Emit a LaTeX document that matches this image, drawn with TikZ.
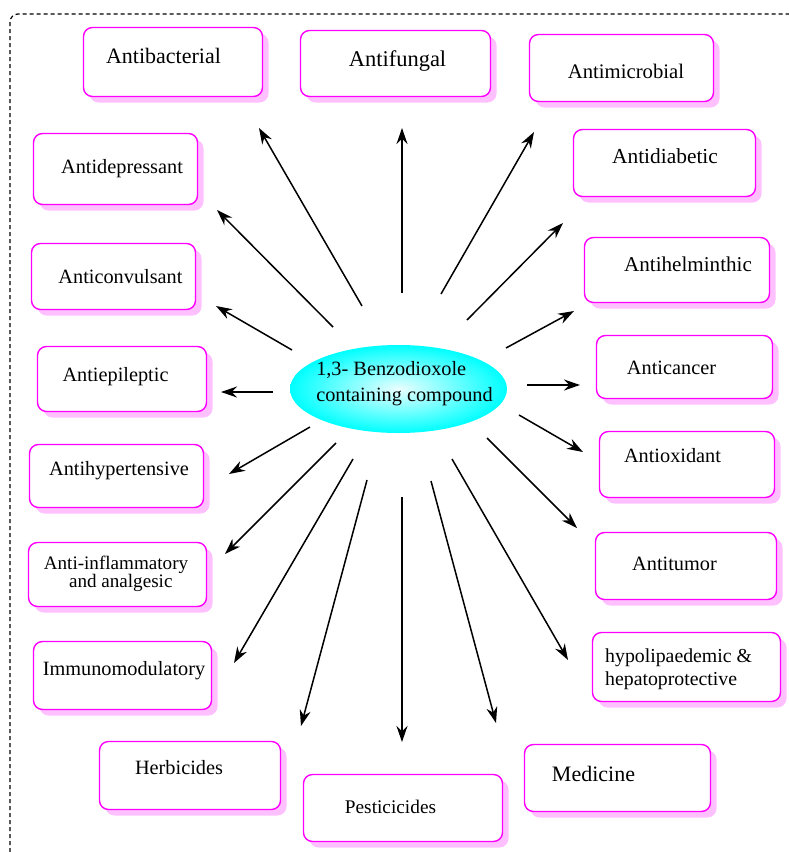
\documentclass[tikz,border=0pt]{standalone}
\usepackage{fontspec}
\setmainfont{Liberation Serif}
\usetikzlibrary{shapes.geometric,shadows,arrows.meta}
\definecolor{boxline}{RGB}{255,0,255}
\definecolor{boxshade}{RGB}{255,192,255}
\definecolor{eggedge}{RGB}{0,255,255}
\definecolor{eggmid}{RGB}{235,255,255}

\begin{document}
\begin{tikzpicture}[x=1pt,y=-1pt,
box/.style={draw=boxline,line width=1.4pt,rounded corners=9pt,fill=white,inner sep=0pt,
  drop shadow={shadow xshift=6pt,shadow yshift=-6pt,fill=boxshade,opacity=1}},
txt/.style={font=\fontsize{#1}{#1}\selectfont,inner sep=0pt,anchor=base},
txt/.default=20.3,
core/.style={ellipse,minimum width=217pt,minimum height=88pt,inner sep=0pt,
  shading=radial,inner color=eggmid,outer color=eggedge},
ray/.style={line width=1.5pt,-{Stealth[length=16pt,width=11pt]}},
frame/.style={line width=1.2pt,dash pattern=on 4pt off 3pt,rounded corners=8pt}
]
\useasboundingbox (0,0) rectangle (789,852);
\draw[frame] (10,880) -- (10,14) -- (820,14);

% centre
\node[core] (core) at (398.5,389) {};
\node[align=left,inner sep=0pt,font=\fontsize{20.3}{26}\selectfont] (coreT) at (404.5,383.3)
  {1,3- Benzodioxole\\containing compound};

% boxes, left column
\node[box,minimum width=179pt,minimum height=69pt] (bact) at (173,62) {};
\node[txt=22] (bactT) at (163.5,63) {Antibacterial};
\node[box,minimum width=164pt,minimum height=71pt] (depr) at (115.5,169) {};
\node[txt] (deprT) at (122,173) {Antidepressant};
\node[box,minimum width=164pt,minimum height=66pt] (conv) at (113.5,276.5) {};
\node[txt] (convT) at (120.5,283) {Anticonvulsant};
\node[box,minimum width=169pt,minimum height=65pt] (epil) at (122,379) {};
\node[txt] (epilT) at (115.5,381) {Antiepileptic};
\node[box,minimum width=174pt,minimum height=63pt] (hyper) at (116.5,476) {};
\node[txt] (hyperT) at (119,475) {Antihypertensive};
\node[box,minimum width=178pt,minimum height=64pt] (infl) at (117.5,574.5) {};
\node[align=center,inner sep=0pt,font=\fontsize{19.1}{18}\selectfont] (inflT) at (116,573.6)
  {Anti-inflammatory\\ \ \ and analgesic};
\node[box,minimum width=178pt,minimum height=68pt] (immu) at (122.5,675.5) {};
\node[txt] (immuT) at (124,675) {Immunomodulatory};

% boxes, bottom
\node[box,minimum width=181pt,minimum height=68pt] (herb) at (190,775.5) {};
\node[txt] (herbT) at (179,774) {Herbicides};
\node[box,minimum width=199pt,minimum height=67pt] (pest) at (403,808) {};
\node[txt=19.3] (pestT) at (390.5,813) {Pesticicides};
\node[box,minimum width=186pt,minimum height=67pt] (medi) at (617.5,778) {};
\node[txt=22] (mediT) at (593.5,781) {Medicine};

% boxes, top and right column
\node[box,minimum width=190pt,minimum height=66pt] (fung) at (395.5,63.5) {};
\node[txt=22.5] (fungT) at (397.5,66) {Antifungal};
\node[box,minimum width=184pt,minimum height=67pt] (micr) at (621.5,68) {};
\node[txt=20.7] (micrT) at (626,78) {Antimicrobial};
\node[box,minimum width=182pt,minimum height=67pt] (diab) at (664.5,163) {};
\node[txt=21.4] (diabT) at (665,163) {Antidiabetic};
\node[box,minimum width=185pt,minimum height=65pt] (helm) at (677,270) {};
\node[txt=21.1] (helmT) at (688,271) {Antihelminthic};
\node[box,minimum width=176pt,minimum height=63pt] (canc) at (684.5,367) {};
\node[txt] (cancT) at (671.5,374) {Anticancer};
\node[box,minimum width=175pt,minimum height=66pt] (oxid) at (687,464.5) {};
\node[txt] (oxidT) at (672.5,462) {Antioxidant};
\node[box,minimum width=181pt,minimum height=67pt] (tumo) at (686,566) {};
\node[txt] (tumoT) at (674.5,570) {Antitumor};
\node[box,minimum width=188pt,minimum height=69pt] (lipa) at (686.5,667) {};
\node[align=left,inner sep=0pt,anchor=west,font=\fontsize{19.8}{23}\selectfont] (lipaT) at (605,668.9)
  {hypolipaedemic \&\\hepatoprotective};

% arrows
\coordinate (sBact) at (362,306); \coordinate (eBact) at (259,128);
\coordinate (sFung) at (402,293); \coordinate (eFung) at (402,128);
\coordinate (sMicr) at (441,294); \coordinate (eMicr) at (534,132);
\coordinate (sDepr) at (333,327); \coordinate (eDepr) at (217,210);
\coordinate (sDiab) at (467,320); \coordinate (eDiab) at (563,223);
\coordinate (sConv) at (292,350); \coordinate (eConv) at (216,306);
\coordinate (sHelm) at (506,348); \coordinate (eHelm) at (574,311);
\coordinate (sEpil) at (273,392); \coordinate (eEpil) at (221,392);
\coordinate (sCanc) at (527,385); \coordinate (eCanc) at (580,385);
\coordinate (sHyper) at (310,427); \coordinate (eHyper) at (229,474);
\coordinate (sOxid) at (519,415); \coordinate (eOxid) at (583,452);
\coordinate (sInfl) at (336,443); \coordinate (eInfl) at (225,554);
\coordinate (sTumo) at (487,438); \coordinate (eTumo) at (577,528);
\coordinate (sImmu) at (353,459); \coordinate (eImmu) at (234,663);
\coordinate (sLipa) at (452,459); \coordinate (eLipa) at (568,660);
\coordinate (sHerb) at (367,480); \coordinate (eHerb) at (301,726);
\coordinate (sPest) at (402,497); \coordinate (ePest) at (402,742);
\coordinate (sMedi) at (431,481); \coordinate (eMedi) at (496,723);

\draw[ray] (sBact) -- (eBact);
\draw[ray] (sFung) -- (eFung);
\draw[ray] (sMicr) -- (eMicr);
\draw[ray] (sDepr) -- (eDepr);
\draw[ray] (sDiab) -- (eDiab);
\draw[ray] (sConv) -- (eConv);
\draw[ray] (sHelm) -- (eHelm);
\draw[ray] (sEpil) -- (eEpil);
\draw[ray] (sCanc) -- (eCanc);
\draw[ray] (sHyper) -- (eHyper);
\draw[ray] (sOxid) -- (eOxid);
\draw[ray] (sInfl) -- (eInfl);
\draw[ray] (sTumo) -- (eTumo);
\draw[ray] (sImmu) -- (eImmu);
\draw[ray] (sLipa) -- (eLipa);
\draw[ray] (sHerb) -- (eHerb);
\draw[ray] (sPest) -- (ePest);
\draw[ray] (sMedi) -- (eMedi);
\end{tikzpicture}
\end{document}
